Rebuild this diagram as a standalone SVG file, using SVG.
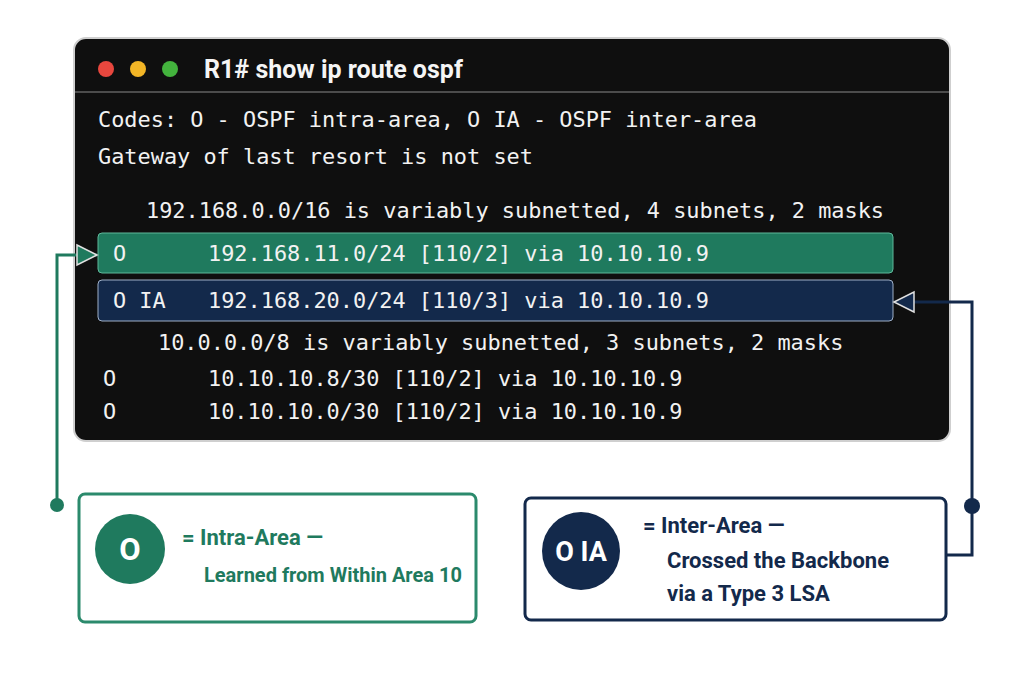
<svg xmlns="http://www.w3.org/2000/svg" width="1024" height="683" viewBox="0 0 1024 683">
<style>
.m{font-family:"DejaVu Sans Mono",monospace;font-size:21.9px;fill:#f2f2f2}
.h{font-family:"Roboto","Liberation Sans",sans-serif;font-weight:bold;font-size:25px;fill:#f5f5f5}
.b{font-family:"Roboto","Liberation Sans",sans-serif;font-weight:bold}
</style>
<defs>
<marker id="ag" viewBox="0 0 24 24" refX="22" refY="12" markerWidth="24" markerHeight="24" markerUnits="userSpaceOnUse" orient="auto"><path d="M2,2 L22,12 L2,22 Z" fill="#1f7a5e" stroke="#e0e0e0" stroke-width="1.5"/></marker>
<marker id="an" viewBox="0 0 24 24" refX="22" refY="12" markerWidth="24" markerHeight="24" markerUnits="userSpaceOnUse" orient="auto"><path d="M2,2 L22,12 L2,22 Z" fill="#13294b" stroke="#e0e0e0" stroke-width="1.5"/></marker>
</defs>
<rect width="1024" height="683" fill="#ffffff"/>
<g id="terminal">
<rect x="74" y="38" width="876" height="403" rx="12" fill="#0f0f0f" stroke="#cfcfcf" stroke-width="2"/>
<line x1="75" y1="92" x2="949" y2="92" stroke="#8a8a8a" stroke-width="1"/>
<circle cx="106" cy="69" r="8" fill="#e8473e"/>
<circle cx="138" cy="69" r="8" fill="#f2b526"/>
<circle cx="170" cy="69" r="8" fill="#43b33d"/>
<text x="204" y="78" class="h">R1# show ip route ospf</text>
<text x="98" y="127" class="m">Codes: O - OSPF intra-area, O IA - OSPF inter-area</text>
<text x="98" y="164" class="m">Gateway of last resort is not set</text>
<text x="146" y="218" class="m">192.168.0.0/16 is variably subnetted, 4 subnets, 2 masks</text>
</g>
<g id="row-o">
<rect x="98" y="233" width="795" height="40" rx="4" fill="#1f7a5e" stroke="#5fb89a" stroke-width="1"/>
<text x="113" y="261" class="m">O</text><text x="208" y="261" class="m">192.168.11.0/24 [110/2] via 10.10.10.9</text>
</g>
<g id="row-oia">
<rect x="98" y="280" width="795" height="41" rx="4" fill="#13294b" stroke="#9fb0c8" stroke-width="1"/>
<text x="113" y="308" class="m">O IA</text><text x="208" y="308" class="m">192.168.20.0/24 [110/3] via 10.10.10.9</text>
</g>
<g id="rest">
<text x="158" y="350" class="m">10.0.0.0/8 is variably subnetted, 3 subnets, 2 masks</text>
<text x="103" y="386" class="m">O</text><text x="208" y="386" class="m">10.10.10.8/30 [110/2] via 10.10.10.9</text>
<text x="103" y="419" class="m">O</text><text x="208" y="419" class="m">10.10.10.0/30 [110/2] via 10.10.10.9</text>
</g>
<g id="legend-o">
<rect x="79" y="494" width="397" height="128" rx="6" fill="#fff" stroke="#2b8a6c" stroke-width="3"/>
<circle cx="130" cy="549" r="35" fill="#1f7a5e"/>
<text x="130" y="560" text-anchor="middle" class="b" font-size="31" fill="#fff">O</text>
<text x="182" y="545" class="b" font-size="22" fill="#1f7a5e">= Intra-Area —</text>
<text x="204" y="582" class="b" font-size="20" fill="#1f7a5e">Learned from Within Area 10</text>
</g>
<g id="legend-oia">
<rect x="525" y="498" width="421" height="122" rx="6" fill="#fff" stroke="#13294b" stroke-width="3"/>
<circle cx="581" cy="551" r="39" fill="#13294b"/>
<text x="581" y="561" text-anchor="middle" class="b" font-size="27" fill="#fff">O IA</text>
<text x="643" y="533" class="b" font-size="22" fill="#13294b">= Inter-Area —</text>
<text x="667" y="568" class="b" font-size="22" fill="#13294b">Crossed the Backbone</text>
<text x="667" y="601" class="b" font-size="22" fill="#13294b">via a Type 3 LSA</text>
</g>
<g id="connectors" fill="none" stroke-width="3">
<polyline points="57,505 57,255 97,255" stroke="#1f7a5e" marker-end="url(#ag)"/>
<circle cx="57" cy="505" r="7" fill="#1f7a5e" stroke="none"/>
<polyline points="946,555 972,555 972,302 894,302" stroke="#13294b" marker-end="url(#an)"/>
<circle cx="972" cy="506" r="8" fill="#13294b" stroke="none"/>
</g>
</svg>
